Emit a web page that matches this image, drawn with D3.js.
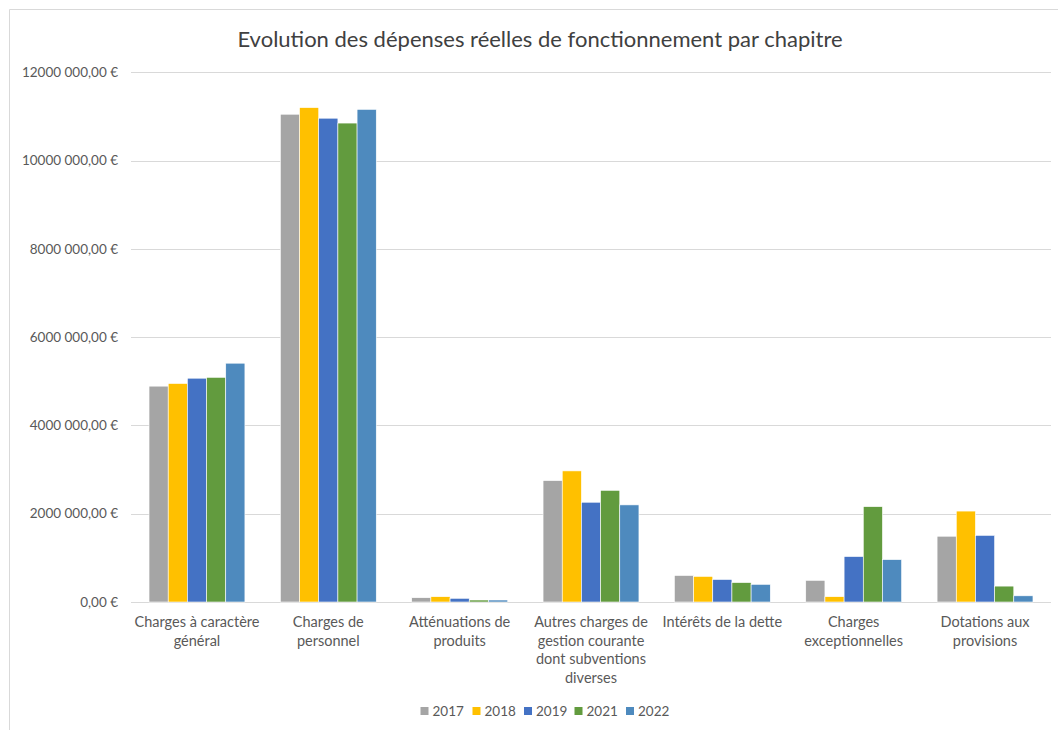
<!DOCTYPE html>
<html>
<head>
<meta charset="utf-8">
<script src="https://cdn.jsdelivr.net/npm/d3@7"></script>
<style>
  html, body { margin: 0; padding: 0; background: #fff; }
  svg { display: block; }
  text { font-family: Lato, "Open Sans", sans-serif; }
</style>
</head>
<body>
<svg id="chart" width="1058" height="730"></svg>
<script>
const categories = [
  ["Charges à caractère", "général"],
  ["Charges de", "personnel"],
  ["Atténuations de", "produits"],
  ["Autres charges de", "gestion courante", "dont subventions", "diverses"],
  ["Intérêts de la dette"],
  ["Charges", "exceptionnelles"],
  ["Dotations aux", "provisions"]
];
const years = ["2017", "2018", "2019", "2021", "2022"];
const values2017 = [4890000, 11050000, 97000, 2750000, 600000, 490000, 1490000];
const values2018 = [4950000, 11200000, 120000, 2970000, 580000, 120000, 2060000];
const values2019 = [5070000, 10960000, 84000, 2260000, 510000, 1030000, 1510000];
const values2021 = [5090000, 10850000, 45000, 2530000, 440000, 2160000, 360000];
const values2022 = [5410000, 11160000, 45000, 2200000, 400000, 960000, 140000];
const yTicks = [0, 2000000, 4000000, 6000000, 8000000, 10000000, 12000000];
const yTickLabels = ["0,00 €", "2000 000,00 €", "4000 000,00 €", "6000 000,00 €", "8000 000,00 €", "10000 000,00 €", "12000 000,00 €"];
const colors = ["#A5A5A5", "#FFC000", "#4472C4", "#629B3E", "#4E8ABE"];
const title = "Evolution des dépenses réelles de fonctionnement par chapitre";

const series = [values2017, values2018, values2019, values2021, values2022];
const svg = d3.select("#chart");

// chart frame
svg.append("line").attr("x1", 9.5).attr("x2", 1058).attr("y1", 9.5).attr("y2", 9.5)
  .attr("stroke", "#D9D9D9").attr("stroke-width", 1);
svg.append("line").attr("x1", 9.5).attr("x2", 9.5).attr("y1", 9.5).attr("y2", 730)
  .attr("stroke", "#D9D9D9").attr("stroke-width", 1);

const catIdx = categories.map((c, i) => i);
const x0 = d3.scaleBand().domain(catIdx).range([131.3, 1050.7]).paddingInner(0.27).paddingOuter(0.135);
const x1 = d3.scaleBand().domain(years).range([0, x0.bandwidth()]).padding(0);
const y = d3.scaleLinear().domain([0, 12000000]).range([602, 72.3]);

// title
svg.append("text").attr("x", 540).attr("y", 47).attr("text-anchor", "middle")
  .attr("font-size", 22).attr("fill", "#404040").text(title);

// gridlines
svg.append("g").selectAll("line").data(yTicks).join("line")
  .attr("x1", 131).attr("x2", 1051)
  .attr("y1", d => Math.round(y(d)) + 0.5).attr("y2", d => Math.round(y(d)) + 0.5)
  .attr("stroke", "#D9D9D9").attr("stroke-width", 1);

// y labels
svg.append("g").selectAll("text").data(yTicks).join("text")
  .attr("x", 118).attr("y", d => y(d)).attr("dy", "0.35em")
  .attr("text-anchor", "end").attr("font-size", 13.5).attr("fill", "#595959")
  .text((d, i) => yTickLabels[i]);

// bars
const g = svg.append("g");
series.forEach((vals, si) => {
  g.append("g").selectAll("rect").data(vals).join("rect")
    .attr("x", (d, i) => x0(i) + x1(years[si]))
    .attr("y", d => y(d))
    .attr("width", x1.bandwidth())
    .attr("height", d => y(0) - y(d))
    .attr("fill", colors[si])
    .attr("stroke", "#ffffff").attr("stroke-width", 0.6);
});

// x labels
const xl = svg.append("g");
categories.forEach((lines, i) => {
  const t = xl.append("text").attr("text-anchor", "middle").attr("font-size", 14.5).attr("fill", "#595959");
  lines.forEach((ln, j) => {
    t.append("tspan").attr("x", x0(i) + x0.bandwidth() / 2).attr("y", 627 + j * 18.5).text(ln);
  });
});

// legend
const legendX = [420.5, 472.5, 524, 574.5, 626];
const lg = svg.append("g");
years.forEach((yr, i) => {
  lg.append("rect").attr("x", legendX[i]).attr("y", 707).attr("width", 8).attr("height", 8).attr("fill", colors[i]);
  lg.append("text").attr("x", legendX[i] + 12).attr("y", 711).attr("dy", "0.35em")
    .attr("font-size", 13.5).attr("fill", "#595959").text(yr);
});
</script>
</body>
</html>
